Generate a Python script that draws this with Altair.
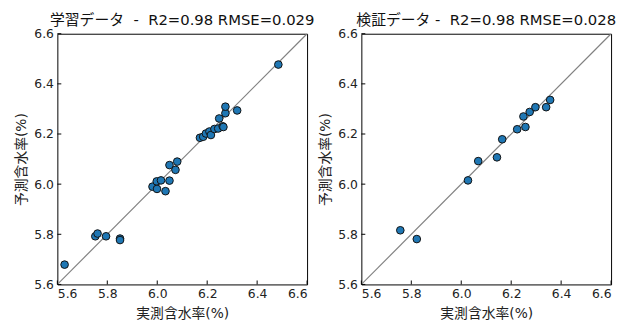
import altair as alt
import pandas as pd

# Training data (measured, predicted)
train_actual = [5.629, 5.752, 5.761, 5.795, 5.851, 5.851, 5.981, 5.998, 5.999, 6.015,
                6.033, 6.049, 6.049, 6.073, 6.080, 6.171, 6.184, 6.195, 6.209, 6.215,
                6.229, 6.244, 6.248, 6.262, 6.265, 6.273, 6.273, 6.320, 6.485]
train_pred = [5.679, 5.792, 5.803, 5.792, 5.783, 5.777, 5.990, 6.011, 5.981, 6.015,
              5.972, 6.014, 6.076, 6.057, 6.090, 6.185, 6.189, 6.202, 6.210, 6.196,
              6.220, 6.222, 6.262, 6.231, 6.228, 6.283, 6.309, 6.294, 6.477]

# Validation data
val_actual = [5.756, 5.822, 6.027, 6.068, 6.143, 6.164, 6.224, 6.249, 6.257, 6.274,
              6.297, 6.340, 6.356]
val_pred = [5.816, 5.781, 6.015, 6.092, 6.107, 6.179, 6.219, 6.270, 6.228, 6.288,
            6.307, 6.307, 6.336]

NB = "\u00a0"
titles = [f"学習データ{NB}{NB}-{NB}{NB}R2=0.98 RMSE=0.029",
          f"検証データ{NB}-{NB}{NB}R2=0.98 RMSE=0.028"]
x_title = "実測含水率(%)"
y_title = "予測含水率(%)"
tick_values = [5.6, 5.8, 6.0, 6.2, 6.4, 6.6]
domain = [5.6, 6.6]

W, H = 253, 254
FONT = "DejaVu Sans, Noto Sans CJK JP"


def panel(actual, pred, title):
    pts = pd.DataFrame({"actual": actual, "pred": pred})
    diag = pd.DataFrame({"actual": domain, "pred": domain})
    ticks = pd.DataFrame({"v": tick_values})

    xs = alt.Scale(domain=domain, nice=False, zero=False)
    ys = alt.Scale(domain=domain, nice=False, zero=False)
    xax = alt.Axis(values=tick_values, format=".1f", ticks=False, domain=False,
                   grid=False, labelPadding=3, title=x_title, titlePadding=7)
    yax = alt.Axis(values=tick_values, format=".1f", ticks=False, domain=False,
                   grid=False, labelPadding=4, title=y_title, titlePadding=5)

    line = alt.Chart(diag).mark_line(color="#808080", strokeWidth=1.2, clip=True).encode(
        x=alt.X("actual:Q", scale=xs, axis=xax),
        y=alt.Y("pred:Q", scale=ys, axis=yax),
    )
    xt = alt.Chart(ticks).mark_rule(color="#000", strokeWidth=1).encode(
        x=alt.X("v:Q", scale=xs),
        y=alt.value(H), y2=alt.value(H - 4),
    )
    yt = alt.Chart(ticks).mark_rule(color="#000", strokeWidth=1).encode(
        y=alt.Y("v:Q", scale=ys),
        x=alt.value(0), x2=alt.value(4),
    )
    dots = alt.Chart(pts).mark_circle(size=60, color="#1f77b4", opacity=1,
                                      stroke="#111", strokeWidth=1).encode(
        x=alt.X("actual:Q", scale=xs),
        y=alt.Y("pred:Q", scale=ys),
    )
    return alt.layer(line, xt, yt, dots).properties(
        width=W, height=H,
        title=alt.TitleParams(title, fontSize=15, font=FONT, fontWeight="normal",
                              color="#111", offset=0, anchor="middle"),
    )


chart = alt.hconcat(
    panel(train_actual, train_pred, titles[0]),
    panel(val_actual, val_pred, titles[1]),
    spacing=2,
).configure(
    padding={"left": 6, "top": 2, "right": 0, "bottom": 0}, background="white",
).configure_view(
    stroke="#000", strokeWidth=1,
).configure_axis(
    labelFont=FONT, titleFont=FONT, labelFontSize=12.5, titleFontSize=14,
    labelColor="#222", titleColor="#222", titleFontWeight="normal",
)

chart.save("out.html", embed_options={"renderer": "svg", "actions": False})
